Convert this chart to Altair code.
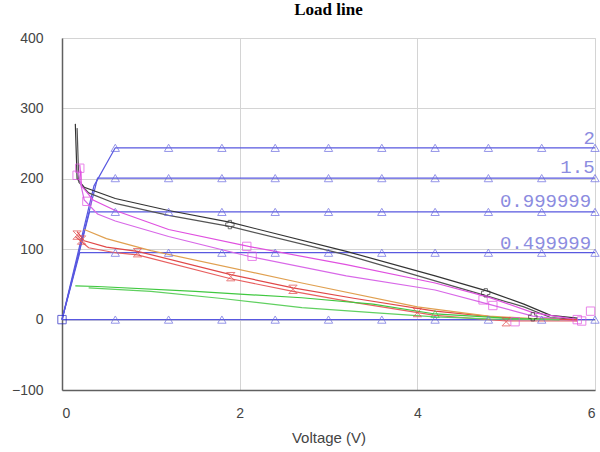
import altair as alt
import pandas as pd

# ---- blue characteristic curves (level lines) ----
blue_levels = [0, 95, 153, 201, 244]
blue_knee_x = [None, 0.20, 0.31, 0.40, 0.36]
blue_knee_y = [None, 95, 153, 201, 190]
blue_tri_x = [0.6, 1.2, 1.8, 2.4, 3.0, 3.6, 4.2, 4.8, 5.4, 6.0]

label_text = ["2", "1.5", "0.999999", "0.499999"]
label_x = [5.87, 5.61, 4.93, 4.93]
label_y = [258, 217, 168, 109]

# ---- load-line curves ----
black1_x = [0.15, 0.17, 0.25, 0.6, 1.2, 1.9, 3.2, 4.2, 4.8, 5.2, 5.5, 5.8]
black1_y = [278, 200, 188, 172, 155, 138, 97, 62, 40, 22, 6, 2]
black2_x = [0.17, 0.19, 0.3, 0.6, 1.2, 1.9, 3.2, 4.2, 4.8, 5.2, 5.5, 5.8]
black2_y = [272, 195, 180, 165, 148, 132, 92, 55, 33, 18, 3, 0]

mag1_x = [0.2, 0.22, 0.35, 0.6, 1.2, 2.1, 3.2, 4.2, 4.8, 5.3, 5.8]
mag1_y = [220, 190, 170, 155, 128, 104, 78, 52, 32, 10, 0]
mag2_x = [0.18, 0.25, 0.4, 0.6, 1.2, 2.1, 3.2, 4.2, 4.8, 5.3, 5.8]
mag2_y = [210, 170, 150, 140, 118, 90, 62, 42, 22, 5, -2]

red1_x = [0.17, 0.25, 0.5, 0.85, 1.9, 2.6, 3.3, 4.2, 5.0, 5.8]
red1_y = [125, 112, 103, 97, 64, 45, 30, 12, 2, 0]
red2_x = [0.15, 0.3, 0.6, 0.85, 1.9, 2.6, 3.3, 4.2, 5.0, 5.8]
red2_y = [118, 102, 95, 92, 58, 40, 24, 6, -2, -2]

orange_x = [0.25, 0.5, 1.0, 2.7, 4.0, 4.8, 5.5]
orange_y = [128, 115, 98, 52, 18, 5, 0]

green1_x = [0.15, 0.4, 1.5, 2.7, 3.5, 4.2, 5.0, 5.6]
green1_y = [48, 47, 40, 31, 22, 8, 2, 0]
green2_x = [0.3, 1.0, 1.8, 2.7, 3.5, 4.2, 4.8, 5.6]
green2_y = [45, 40, 30, 17, 10, 4, 1, 0]

# ---- markers on load lines ----
black_mk_x = [1.89, 4.77, 5.3]
black_mk_y = [135, 38, 4]
mag_mk_x = [0.2, 0.17, 0.28, 2.08, 2.14, 4.74, 4.85, 5.1, 5.8, 5.85, 5.95]
mag_mk_y = [215, 205, 168, 104, 90, 28, 20, -3, 0, -2, 12]
red_mk_x = [0.17, 0.22, 0.85, 1.9, 2.6, 4.0, 5.0]
red_mk_y = [120, 113, 95, 61, 43, 10, -3]
green_mk_x = [4.2]
green_mk_y = [8]

rows = []
for i, lvl in enumerate(blue_levels):
    name = f"blue{i}"
    pts = [(0.0, 0.0)]
    if blue_knee_x[i] is not None:
        pts.append((blue_knee_x[i], blue_knee_y[i]))
    for tx in blue_tri_x:
        pts.append((tx, lvl))
    for k, (px, py) in enumerate(pts):
        rows.append({"series": name, "x": px, "y": py, "o": k})

def add(name, xs, ys):
    for k, (px, py) in enumerate(zip(xs, ys)):
        rows.append({"series": name, "x": px, "y": py, "o": k})

add("black1", black1_x, black1_y)
add("black2", black2_x, black2_y)
add("mag1", mag1_x, mag1_y)
add("mag2", mag2_x, mag2_y)
add("red1", red1_x, red1_y)
add("red2", red2_x, red2_y)
add("orange", orange_x, orange_y)
add("green1", green1_x, green1_y)
add("green2", green2_x, green2_y)
lines_df = pd.DataFrame(rows)

mk = []
for lvl in blue_levels:
    for tx in blue_tri_x:
        mk.append({"kind": "tri", "x": tx, "y": lvl})
for px, py in zip(black_mk_x, black_mk_y):
    mk.append({"kind": "cross", "x": px, "y": py})
for px, py in zip(mag_mk_x, mag_mk_y):
    mk.append({"kind": "square", "x": px, "y": py})
for px, py in zip(red_mk_x, red_mk_y):
    mk.append({"kind": "bow", "x": px, "y": py})
for px, py in zip(green_mk_x, green_mk_y):
    mk.append({"kind": "gtri", "x": px, "y": py})
mk_df = pd.DataFrame(mk)
mk_df = pd.concat([mk_df, pd.DataFrame([{"kind": "origin", "x": 0.0, "y": 0.0}])])

lab_df = pd.DataFrame({"t": label_text, "x": label_x, "y": label_y})

series_dom = ["blue0", "blue1", "blue2", "blue3", "blue4", "black1", "black2",
              "mag1", "mag2", "red1", "red2", "orange", "green1", "green2"]
series_rng = ["#5858e0", "#5858e0", "#5858e0", "#5858e0", "#5858e0", "#333333", "#555555",
              "#e050e0", "#d868e8", "#e04848", "#e86060", "#e0a050", "#40c840", "#60d060"]

lab_style = dict(labelFont="Liberation Sans", labelFontSize=14, labelColor="#444444", ticks=False,
                 grid=True, gridColor="#d4d4d4", domainColor="#606060", domainWidth=1.5)

xs = alt.X("x:Q", scale=alt.Scale(domain=[0, 6], nice=False),
           axis=alt.Axis(values=[0, 2, 4, 6], format="d", title="Voltage (V)",
                         labelPadding=16, titlePadding=10,
                         titleFontWeight="normal", titleFont="Liberation Sans",
                         titleFontSize=15, titleColor="#444444", **lab_style))
ys = alt.Y("y:Q", scale=alt.Scale(domain=[-100, 400], nice=False),
           axis=alt.Axis(values=[-100, 0, 100, 200, 300, 400], title=None,
                         labelPadding=19, **lab_style))

lines = alt.Chart(lines_df).mark_line(strokeWidth=1.2).encode(
    x=xs, y=ys,
    color=alt.Color("series:N", scale=alt.Scale(domain=series_dom, range=series_rng), legend=None),
    order="o:Q",
)

kind_dom = ["tri", "cross", "square", "bow", "gtri", "origin"]
shape_rng = ["triangle-up", "cross", "square", "M-1,-1L1,-1L-1,1L1,1Z", "triangle-up", "square"]
col_rng = ["#6a6ae0", "#333333", "#e050e0", "#e04848", "#40c840", "#2020c0"]
markers = alt.Chart(mk_df).mark_point(filled=False, size=70, strokeWidth=1).encode(
    x="x:Q", y="y:Q",
    shape=alt.Shape("kind:N", scale=alt.Scale(domain=kind_dom, range=shape_rng), legend=None),
    color=alt.Color("kind:N", scale=alt.Scale(domain=kind_dom, range=col_rng), legend=None),
)

labels = alt.Chart(lab_df).mark_text(
    align="left", baseline="middle", font="Liberation Mono", fontSize=19, color="#8c8ce0"
).encode(x="x:Q", y="y:Q", text="t:N")

chart = alt.layer(lines, markers, labels).resolve_scale(color="independent").properties(
    width=533, height=352,
    title=alt.Title("Load line", font="Liberation Serif", fontSize=17, fontWeight="bold",
                    color="#000000", anchor="middle", offset=12),
    autosize=alt.AutoSizeParams(type="none"),
    padding={"left": 62, "top": 38, "right": 5, "bottom": 62},
).configure_view(stroke="#909090", strokeWidth=1.5).configure(background="white")

chart.save("out.html", embed_options={"renderer": "svg", "actions": False})
